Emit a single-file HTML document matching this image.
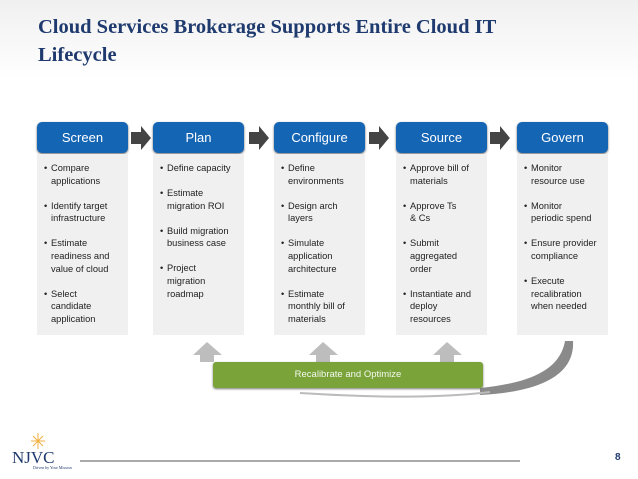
<!DOCTYPE html>
<html><head><meta charset="utf-8"><style>
body{margin:0;width:638px;height:479px;background:#fff;position:relative;overflow:hidden;font-family:"Liberation Sans",sans-serif}
.bg{position:absolute;left:0;top:0;width:638px;height:80px;background:linear-gradient(180deg,#f0f0f0,#fff)}
h1{position:absolute;left:38px;top:13px;margin:0;font:bold 20.5px/28px "Liberation Serif",serif;color:#1f3a6e;width:470px}
.hd{position:absolute;top:122px;width:91px;height:31px;background:#1565b5;border-radius:5px;color:#fff;font-size:13px;line-height:31px;text-align:center;box-shadow:0 1px 2px #666}
.bd{position:absolute;top:154px;width:91px;height:181px;background:#f0f0f0;font-size:9.3px;line-height:12.6px;color:#222}
.bd ul{margin:0;padding:8px 0 0 14px;width:70px;list-style:none}
.bd li{position:relative;margin-bottom:12.5px}
.bd li:before{content:"•";position:absolute;left:-7px}
.green{position:absolute;left:213px;top:362px;width:270px;height:26px;background:#7aa33a;border-radius:3px;color:#f4f8ee;font-size:9.5px;line-height:26px;text-align:center;box-shadow:0 1px 2px #777}
.pg{position:absolute;left:615px;top:452px;font:bold 10px "Liberation Sans",sans-serif;color:#1f3a6e}
</style></head><body>
<div class="bg"></div>
<h1>Cloud Services Brokerage Supports Entire Cloud IT Lifecycle</h1>
<svg width="638" height="479" style="position:absolute;left:0;top:0">
<g fill="#444">
<polygon points="131,132 141,132 141,126 151,138 141,150 141,144 131,144"/>
<polygon points="249,132 259,132 259,126 269,138 259,150 259,144 249,144"/>
<polygon points="369,132 379,132 379,126 389,138 379,150 379,144 369,144"/>
<polygon points="490,132 500,132 500,126 510,138 500,150 500,144 490,144"/>
</g>
<g fill="#bdbdbd">
<polygon points="193,355 207,342 222,355 214,355 214,362 200,362 200,355"/>
<polygon points="309,355 323,342 338,355 330,355 330,362 316,362 316,355"/>
<polygon points="433,355 447,342 462,355 454,355 454,362 440,362 440,355"/>
</g>
<path d="M565,341 L573,341 C575,375 540,392 480,395 L480,388 C530,383 560,370 565,341Z" fill="#8a8a8a"/>
<path d="M300,393 C380,398 440,398 490,392" stroke="#bbb" stroke-width="2" fill="none"/>
<line x1="80" y1="461" x2="520" y2="461" stroke="#aaa" stroke-width="2"/>
<g stroke="#f0b040" stroke-width="1"><line x1="38" y1="433" x2="38" y2="449"/><line x1="31" y1="441" x2="45" y2="441"/><line x1="33" y1="436" x2="43" y2="446"/><line x1="43" y1="436" x2="33" y2="446"/></g>
<text x="12" y="463" font-family="Liberation Serif" font-size="17" fill="#1f3a6e">NJVC</text>
<text x="33" y="469" font-family="Liberation Serif" font-size="4" fill="#1f3a6e">Driven by Your Mission</text>
</svg>
<div class="hd" style="left:37px">Screen</div>
<div class="hd" style="left:153px">Plan</div>
<div class="hd" style="left:274px">Configure</div>
<div class="hd" style="left:396px">Source</div>
<div class="hd" style="left:517px">Govern</div>
<div class="bd" style="left:37px"><ul><li>Compare<br>applications</li><li>Identify target<br>infrastructure</li><li>Estimate<br>readiness and<br>value of cloud</li><li>Select<br>candidate<br>application</li></ul></div>
<div class="bd" style="left:153px"><ul><li>Define capacity</li><li>Estimate<br>migration ROI</li><li>Build migration<br>business case</li><li>Project<br>migration<br>roadmap</li></ul></div>
<div class="bd" style="left:274px"><ul><li>Define<br>environments</li><li>Design arch<br>layers</li><li>Simulate<br>application<br>architecture</li><li>Estimate<br>monthly bill of<br>materials</li></ul></div>
<div class="bd" style="left:396px"><ul><li>Approve bill of<br>materials</li><li>Approve Ts<br>&amp; Cs</li><li>Submit<br>aggregated<br>order</li><li>Instantiate and<br>deploy<br>resources</li></ul></div>
<div class="bd" style="left:517px"><ul><li>Monitor<br>resource use</li><li>Monitor<br>periodic spend</li><li>Ensure provider<br>compliance</li><li>Execute<br>recalibration<br>when needed</li></ul></div>
<div class="green">Recalibrate and Optimize</div>
<div class="pg">8</div>
</body></html>
